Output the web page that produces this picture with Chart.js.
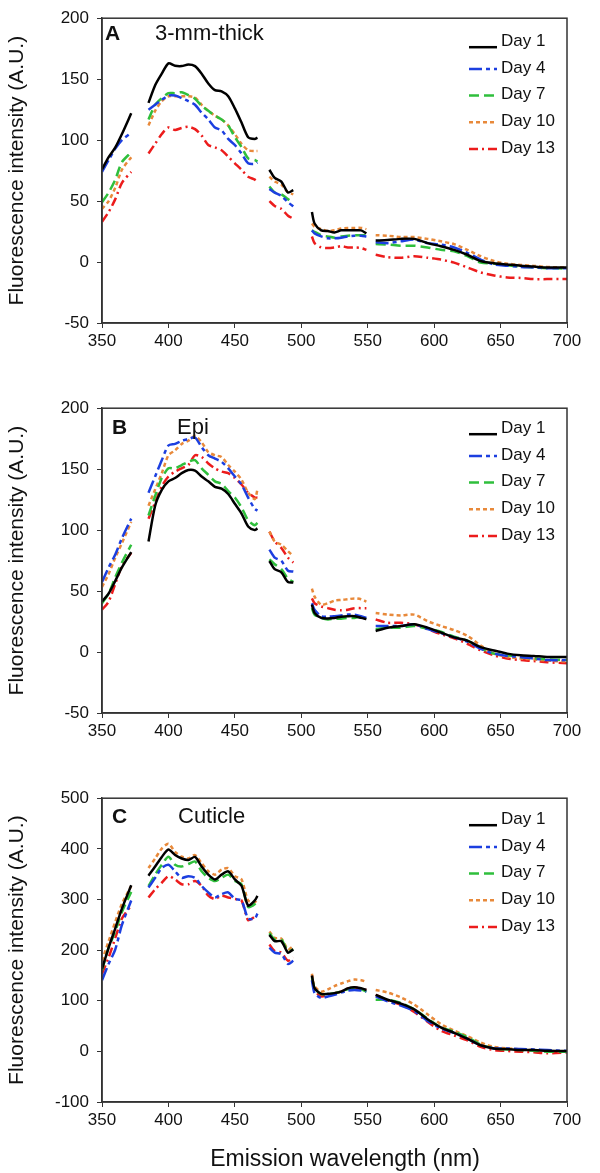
<!DOCTYPE html>
<html>
<head>
<meta charset="utf-8">
<script src="https://cdn.jsdelivr.net/npm/chart.js@4.4.1/dist/chart.umd.min.js"></script>
<style>
  body { margin: 0; background: #fff; width: 600px; height: 1173px; position: relative; overflow: hidden; }
  .panel { position: absolute; left: 0; width: 600px; }
</style>
</head>
<body>
<div class="panel" style="top:0px"><canvas id="chartA" width="600" height="390"></canvas></div>
<div class="panel" style="top:390px"><canvas id="chartB" width="600" height="390"></canvas></div>
<div class="panel" style="top:780px"><canvas id="chartC" width="600" height="393"></canvas></div>
<script>
// emission wavelengths (nm); null rows mark the gaps in the spectra
const wavelengths = [350, 355, 360, 365, 372, 378,
  385, 390, 395, 400, 405, 410, 415, 420, 425, 430, 435, 440, 445, 450, 455, 460, 465, 467, 472,
  476, 480, 485, 490, 494, 501,
  508, 510, 515, 520, 525, 530, 535, 540, 545, 549, 553,
  556, 565, 575, 585, 595, 605, 615, 625, 635, 645, 655, 665, 675, 685, 700];

const dayLabels = ['Day 1', 'Day 4', 'Day 7', 'Day 10', 'Day 13'];

// Panel A - 3-mm-thick
const a_day1 = [76, 86, 94, 105, 122, null,
  130.5, 145, 154.5, 163, 161, 160.7, 162, 160.7, 154.5, 146.5, 141, 140, 136, 126, 114.4, 102.4, 101, 102, null,
  75.7, 69, 66, 57, 59, null,
  41, 31.6, 26, 25.4, 24.3, 26, 26, 26, 26, 23.5, null,
  17.6, 18, 19, 19, 15.5, 13, 10, 6, 0.8, -1, -2, -3, -3.7, -4.5, -4.5];
const a_day4 = [74, 83.7, 93, 100, 106, null,
  125, 129, 133, 136.6, 136.6, 134.5, 132, 129, 122.5, 117, 110.4, 108, 101, 96, 89, 81, 80.5, 81.5, null,
  60, 57, 54.3, 49, 45.7, null,
  26, 23.5, 21, 19.5, 19.5, 20, 21, 21.6, 21.6, 21, null,
  16.3, 15.5, 17, 18.4, 15.5, 14.4, 12, 7.5, 2, -2, -3, -4, -4.5, -5, -5];
const a_day7 = [49, 57, 67.6, 82, 90, null,
  117, 129, 134.5, 138.5, 138.5, 139.3, 137, 134, 128, 124, 120, 117, 112, 102.4, 94.4, 85, 83.7, 82.4, null,
  62, 57, 55.6, 51.6, 49, null,
  26, 24.8, 22, 21, 20, 21, 21.6, 22, 22, 22, null,
  14.7, 14.4, 13.4, 13.4, 12, 10, 8.8, 4.8, -0.5, -1.3, -2.7, -3.7, -4.5, -5, -5.3];
const a_day10 = [43.6, 50, 61, 75.7, 86, null,
  112, 124, 132, 136, 136, 136, 136, 135, 129, 124, 120, 117, 112, 105, 97, 91.7, 91, 91, null,
  70, 66, 63.6, 57, 55.6, null,
  31.6, 29, 27, 25.4, 26, 27.5, 28, 28, 28, 27, null,
  22, 21.6, 20.5, 20.5, 19, 17, 14.7, 10, 4.8, 0.8, -1.3, -2.4, -3.2, -4, -4.5];
const a_day13 = [33, 41, 51.6, 65, 74, null,
  89, 97, 105, 110.4, 108.3, 110, 111, 109, 103.7, 96, 94, 91.7, 86.4, 81, 75.7, 70, 67.6, 66, null,
  50, 46, 43.6, 38, 35.6, null,
  21, 15.5, 12, 11.5, 12, 13, 12, 12, 11.5, 10, null,
  6, 4, 3.5, 4.8, 3.5, 2, -0.5, -4.5, -8.5, -11, -12.6, -13, -14, -14, -14];

// Panel B - Epi
const b_day1 = [41.4, 48, 58.4, 69.4, 82, null,
  90.7, 120, 133, 140, 142.7, 146.7, 149.3, 148.8, 144, 140, 135.5, 134, 129.6, 121.6, 113.6, 103, 100, 101.4, null,
  74.7, 68, 65.4, 57.4, 57, null,
  38.8, 32, 28, 27.6, 28, 29, 29.4, 29.4, 28, 27, null,
  17.3, 20, 21.3, 22.7, 20, 16, 12, 9.3, 4, 1.3, -1.3, -2.7, -3.2, -4, -4];
const b_day4 = [57.4, 69.4, 80, 93.4, 109.4, null,
  130.7, 144, 157.4, 169.4, 170.7, 173.3, 174.7, 176, 168, 161.4, 158.7, 156, 150.7, 144, 137.4, 126.7, 117.4, 116, null,
  84, 77.4, 74.7, 66.7, 66, null,
  40, 34.7, 29.4, 29, 29.4, 30, 30.7, 30.7, 29.4, 28, null,
  21.4, 21.4, 21.4, 22.7, 18.8, 15.6, 12, 8.6, 2.7, -1.3, -3.2, -4, -5.3, -6.6, -6.6];
const b_day7 = [40, 48, 61.4, 73.4, 88, null,
  112, 128, 142.7, 150.7, 150.7, 153.4, 156, 157.4, 150.7, 145.4, 140, 138, 132, 126.7, 118.7, 108, 104, 106, null,
  76, 72, 68, 60, 57.4, null,
  36, 30.7, 28, 26.7, 27.3, 27.3, 28, 28, 29, 28, null,
  18.7, 20, 20, 21.4, 19.2, 16.6, 12.6, 9.3, 3.2, -1.3, -2.7, -4, -5.3, -6, -6.6];
const b_day10 = [53.4, 64, 77.4, 89.4, 106.7, null,
  120, 133.4, 146.7, 161.4, 165.4, 170.7, 173.3, 177.3, 172, 164, 161.4, 160, 153.4, 148, 141.4, 130.7, 125.4, 133.4, null,
  98.7, 90.7, 88, 82.7, 78.7, null,
  52, 45.4, 38.8, 40, 42.2, 42.7, 43.3, 44, 43.3, 41.4, null,
  32, 30.7, 30, 30.7, 25.4, 21.4, 18, 13.4, 5.4, -1.3, -4, -5.3, -6, -7, -7.9];
const b_day13 = [34.7, 41.4, 56, 70.7, 81.4, null,
  109.4, 122.7, 136, 144, 148, 150.7, 153.4, 161.4, 160, 154.7, 150.7, 148, 146.7, 142.7, 137.4, 130.7, 126.7, 126.7, null,
  98.7, 90.7, 85.4, 77.4, 73.4, null,
  44, 40, 37.4, 36, 34.7, 34.2, 34.7, 36, 36, 36, null,
  26.7, 24, 24, 22.7, 18.8, 14.7, 11.3, 6.8, 1.4, -2.7, -5.3, -6.6, -7.4, -8.4, -9.2];

// Panel C - Cuticle
const c_day1 = [163, 205, 243, 282, 328, null,
  347, 365, 384, 398.6, 387.7, 381, 378, 384, 365, 349, 339.5, 349, 355.6, 339.5, 327, 288, 298, 307, null,
  230, 217.6, 217.6, 195, 201.5, null,
  150, 125, 113.6, 113.6, 115, 118, 124.5, 126.4, 124.5, 121.3, null,
  111.7, 102, 94.4, 83, 63.5, 47.5, 36.6, 25, 12, 5.8, 4.5, 2.6, 2.6, 1.3, 0.7];
const c_day4 = [140.6, 172.6, 201.5, 249.7, 297.8, null,
  323.5, 342.7, 362, 368.4, 355.6, 342.7, 346, 342.7, 326.7, 313.9, 304, 310.6, 313.9, 301, 298, 262.5, 262.5, 272, null,
  204.8, 195, 192, 172.6, 179, null,
  140.6, 115, 105.3, 108.5, 111.7, 116.2, 120, 121.3, 120, 118, null,
  108.5, 98.8, 90.5, 79.6, 60.3, 45.6, 36.6, 25, 12.2, 5.8, 5.8, 4.5, 3.9, 2.6, 0.7];
const c_day7 = [160, 205, 237, 275.4, 315, null,
  326.7, 349, 368.4, 384.5, 368.4, 365, 370, 375, 355.6, 342.7, 336.3, 342.7, 349, 336.3, 330, 285, 291, 298, null,
  233.6, 220.8, 220.8, 198, 201.5, null,
  147, 124.5, 113, 113.6, 115, 118, 122.6, 124.5, 122.6, 118, null,
  102, 102, 95.6, 83, 64.8, 47.5, 39, 28, 13.5, 5.8, 3.9, 2.6, 1.3, -0.6, -0.6];
const c_day10 = [179, 217.6, 256, 291.4, 326.7, null,
  362, 381, 400.5, 410, 394, 384.5, 381, 387.7, 371.6, 355.6, 349, 358.8, 362, 346, 339.5, 298, 294.6, 301, null,
  236.8, 224, 222.7, 201.5, 208, null,
  153.4, 128.4, 118, 122.6, 129, 134, 138.6, 141.8, 140.6, 137.4, null,
  121.3, 116.2, 106.6, 92.4, 73.2, 54, 41, 30, 17.4, 9, 5.8, 3.9, 2.6, 0.7, -0.6];
const c_day13 = [153.4, 185.5, 224, 262.5, 288, null,
  304, 320, 333, 346, 339.5, 330, 330, 336.3, 326.7, 307.4, 301, 307.4, 304, 301, 298, 259, 265.7, 269, null,
  211, 198, 195, 179, 185.5, null,
  150, 121.3, 108.5, 111.7, 115, 118, 124.5, 126.4, 122.6, 121.3, null,
  111.7, 100.8, 92.4, 77.7, 58.4, 41, 31.4, 21.8, 9, 2.6, 0.7, -0.6, -1.9, -3.9, -1.9];

const colors = ['#000000', '#1c3fe0', '#2fbf3c', '#e8893a', '#ec1c1c'];
const dashes = [[], [13, 4, 4, 4], [10, 5], [4, 3], [9, 4, 2, 4]];

const FONT = '"Liberation Sans", Arial, sans-serif';

// frame, panel letter/name, legend and (bottom panel) x title
const extras = {
  id: 'extras',
  afterDraw(chart, args, opts) {
    const { ctx, chartArea: a } = chart;
    ctx.save();
    ctx.strokeStyle = '#333';
    ctx.lineWidth = 1.5;
    ctx.strokeRect(a.left, a.top, a.right - a.left, a.bottom - a.top);

    ctx.fillStyle = '#111';
    ctx.textBaseline = 'middle';
    ctx.font = 'bold 21px ' + FONT;
    ctx.fillText(opts.letter, a.left + opts.letterDx, a.top + opts.labelDy);
    ctx.font = '22px ' + FONT;
    ctx.fillText(opts.name, a.left + opts.nameDx, a.top + opts.labelDy);

    ctx.font = '17px ' + FONT;
    chart.data.datasets.forEach((ds, i) => {
      const y = a.top + opts.legendTop + i * 26.7;
      const ly = y + (i === 0 ? 6 : 1);
      ctx.strokeStyle = ds.borderColor;
      ctx.lineWidth = ds.borderWidth;
      ctx.setLineDash(ds.borderDash);
      ctx.beginPath();
      ctx.moveTo(a.right - 98, ly);
      ctx.lineTo(a.right - 70, ly);
      ctx.stroke();
      ctx.setLineDash([]);
      ctx.fillStyle = '#111';
      ctx.fillText(ds.label, a.right - 66, y);
    });

    if (opts.xTitle) {
      ctx.font = '23px ' + FONT;
      ctx.textAlign = 'center';
      ctx.fillText(opts.xTitle, 345, a.bottom + 58);
    }
    ctx.restore();
  }
};

function buildSets(series) {
  return series.map((vals, i) => ({
    label: dayLabels[i],
    data: wavelengths.map((x, j) => ({ x: x, y: vals[j] })),
    borderColor: colors[i],
    borderDash: dashes[i],
    borderWidth: 2.5,
    pointRadius: 0,
    tension: 0.25,
    spanGaps: false,
    fill: false
  }));
}

function makeChart(id, series, yMin, yMax, yStep, topPad, xHeight, label) {
  const ctx = document.getElementById(id).getContext('2d');
  return new Chart(ctx, {
    type: 'line',
    data: { datasets: buildSets(series) },
    options: {
      responsive: false,
      animation: false,
      events: [],
      layout: { padding: { top: topPad, right: 33, left: 0, bottom: 0 } },
      plugins: {
        legend: { display: false },
        tooltip: { enabled: false },
        extras: label
      },
      scales: {
        x: {
          type: 'linear',
          min: 350,
          max: 700,
          afterFit: (s) => { s.height = xHeight; },
          ticks: { stepSize: 50, color: '#111', padding: 3, maxRotation: 0, font: { size: 17, family: FONT } },
          grid: { drawOnChartArea: false, tickLength: 5, color: '#333' },
          border: { color: '#333', width: 1.5 }
        },
        y: {
          min: yMin,
          max: yMax,
          afterFit: (s) => { s.width = 102; },
          ticks: { stepSize: yStep, color: '#111', padding: 8, font: { size: 17, family: FONT } },
          grid: { drawOnChartArea: false, tickLength: 5, color: '#333' },
          border: { color: '#333', width: 1.5 },
          title: {
            display: true,
            text: 'Fluorescence intensity (A.U.)',
            color: '#111',
            font: { size: 21, family: FONT },
            padding: { top: 5, bottom: 0 }
          }
        }
      }
    },
    plugins: [extras]
  });
}

makeChart('chartA', [a_day1, a_day4, a_day7, a_day10, a_day13], -50, 200, 50, 12, 67,
  { letter: 'A', name: '3-mm-thick', letterDx: 3, nameDx: 53, labelDy: 16, legendTop: 23 });
makeChart('chartB', [b_day1, b_day4, b_day7, b_day10, b_day13], -50, 200, 50, 10, 67,
  { letter: 'B', name: 'Epi', letterDx: 10, nameDx: 75, labelDy: 20, legendTop: 20 });
makeChart('chartC', [c_day1, c_day4, c_day7, c_day10, c_day13], -100, 500, 100, 10, 71,
  { letter: 'C', name: 'Cuticle', letterDx: 10, nameDx: 76, labelDy: 19, legendTop: 21,
    xTitle: 'Emission wavelength (nm)' });
</script>
</body>
</html>
